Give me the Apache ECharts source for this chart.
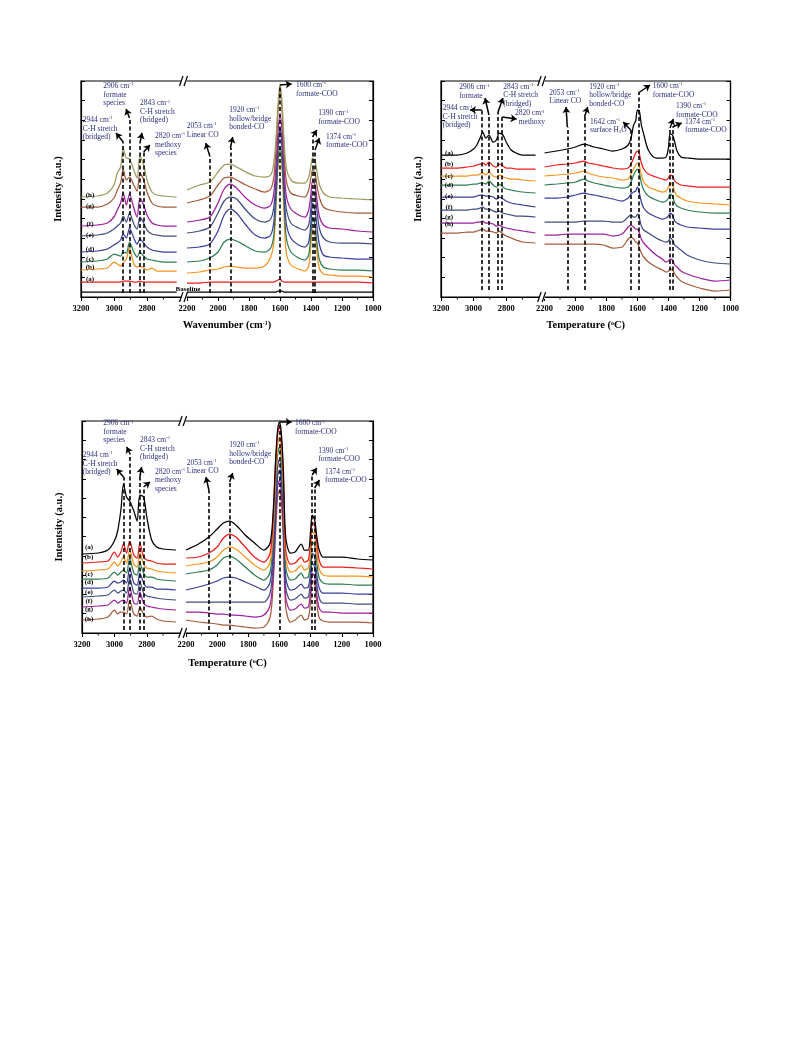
<!DOCTYPE html>
<html>
<head>
<meta charset="utf-8">
<title>IR spectra</title>
<script src="https://cdn.jsdelivr.net/npm/echarts@6.0.0/dist/echarts.min.js"></script>
<style>
html,body{margin:0;padding:0;background:#fff;}
#chart{width:793px;height:1057px;}
</style>
</head>
<body>
<div id="chart"></div>
<script>
// ---------- tick labels ----------
const X_MAJOR = [3200, 3000, 2800, 2200, 2000, 1800, 1600, 1400, 1200, 1000];
const X_MINOR = [3100, 2900, 2700, 2100, 1900, 1700, 1500, 1300, 1100];

// ---------- panel 1 (wavenumber) ----------
const p1_wn = [3200,3100,3040,3000,2980,2960,2944,2925,2906,2880,2860,2843,2820,2800,2770,2740,2700,2620,
  2200,2120,2053,2000,1960,1920,1880,1820,1760,1700,1660,1640,1625,1612,1600,1588,1575,1560,1530,1480,1440,1415,1400,1390,1374,1360,1345,1320,1280,1200,1100,1000];
const p1_baseline = [5,5,5,5,5,5,5,5,5,5,5,5,5,5,5,5,5,5,
  5,5,5,5,5,5,5,5,5,5, 5,5,5,6,6,6,5,5,5,5,5,5,5,5,5,5,5,5,5,5,5,5];
const p1_a = [15,15,15,15,15,15,16,16,16,15,15,16,15,15,15,15,15,15,
  14,14,15,15,15,15,15,15,15,15, 15,15,16,17,18,16,15,15,15,15,15,15,15,15,15,15,15,15,15,15,15,14];
const p1_b = [27,28,29,35,33,31,34,38,49,33,30,31,29,27,29,26,26,26,
  24,25,27,28,30,31,30,29,29,31, 40,54,94,134,150,134,87,45,32,28,26,31,54,68,61,42,28,23,22,21,21,20];
const p1_c = [35,36,38,43,42,41,45,44,55,45,40,45,41,38,37,36,35,35,
  35,36,39,45,55,58,56,51,46,45, 49,62,100,137,150,137,100,60,45,39,37,42,64,80,72,52,37,30,28,27,27,26];
const p1_d = [45,46,48,52,54,57,63,59,69,59,53,58,54,50,47,46,45,45,
  49,50,53,66,82,88,84,72,62,59, 62,75,110,150,169,152,110,74,59,52,50,55,75,94,87,68,52,42,40,39,38,38];
const p1_e = [61,62,64,68,71,74,81,75,84,73,68,80,74,67,63,62,61,61,
  64,66,70,84,96,100,98,87,78,75, 78,90,120,155,169,157,120,89,74,69,67,72,90,106,102,84,68,59,55,54,54,53];
const p1_f = [71,72,74,80,87,94,104,92,103,89,80,99,92,82,74,72,71,71,
  75,77,80,94,108,113,109,99,92,89, 92,104,134,167,182,169,134,102,88,82,80,87,104,116,112,95,80,72,69,68,66,65];
const p1_g = [90,90,93,99,107,114,128,117,120,112,106,124,117,105,94,91,90,90,
  94,97,101,112,119,120,117,112,108,105, 108,120,150,187,207,190,150,117,104,101,100,107,120,127,124,110,99,90,87,85,84,84];
const p1_h = [100,101,104,112,124,130,148,139,138,127,119,141,132,117,105,102,101,100,
  107,112,115,125,132,133,130,125,121,120, 122,134,160,194,213,197,160,130,117,114,114,120,132,139,136,124,112,104,100,99,98,97];

// ---------- panel 2 ----------
const p2_wn = [3200,3100,3040,3000,2980,2960,2944,2925,2906,2880,2860,2843,2820,2800,2770,2740,2700,2620,
  2200,2120,2053,2000,1945,1920,1880,1820,1760,1700,1660,1642,1625,1612,1600,1588,1575,1560,1530,1480,1440,1415,1400,1390,1374,1360,1345,1320,1280,1200,1100,1000];
const p2_a = [142,142,144,148,152,159,165,159,162,155,157,164,162,155,147,144,142,142,
  144,146,148,150,153,152,150,148,146,148, 152,159,172,176,187,186,172,163,147,139,139,140,150,163,162,155,146,140,139,138,138,138];
const p2_b = [129,129,130,131,132,133,134,132,135,131,130,133,131,129,129,128,128,128,
  130,132,133,134,136,134,133,131,129,128, 129,133,139,144,146,143,134,128,123,120,118,117,119,122,121,116,114,112,111,110,110,110];
const p2_c = [121,121,121,122,122,123,124,122,125,121,120,122,120,119,118,118,117,116,
  121,122,123,124,126,124,122,120,119,117, 118,123,128,132,134,131,122,115,110,107,105,106,110,114,112,105,101,99,96,94,93,92];
const p2_d = [112,112,112,113,113,114,114,113,116,112,110,113,110,108,107,106,105,104,
  112,113,114,115,118,116,114,112,110,109, 110,115,122,126,128,124,114,107,101,97,95,96,99,103,101,94,91,89,87,85,84,84];
const p2_e = [100,100,100,100,101,102,102,101,101,100,98,100,98,96,94,93,92,90,
  99,99,100,102,104,103,102,100,98,96, 99,103,105,106,110,104,95,89,84,80,78,79,81,84,82,76,74,72,70,69,68,68];
const p2_f = [87,87,87,88,88,89,90,88,88,86,85,86,84,83,82,81,81,80,
  75,75,75,75,76,76,76,76,75,75, 80,82,80,80,83,79,71,67,64,59,56,55,56,59,57,52,50,47,42,37,34,33];
const p2_g = [74,74,74,74,75,75,76,74,74,73,71,72,70,69,68,67,66,64,
  62,62,63,63,63,63,63,63,61,63, 70,72,70,68,68,64,58,54,49,42,38,35,36,38,37,32,30,26,23,19,16,17];
const p2_h = [64,64,65,65,66,67,68,66,66,65,64,66,63,61,59,57,55,54,
  53,53,53,53,53,53,53,52,49,50, 58,60,58,55,54,49,44,40,35,30,27,25,26,28,27,23,20,16,13,9,6,7];

// ---------- panel 3 ----------
const p3_wn = [3200,3100,3040,3000,2980,2960,2944,2925,2906,2880,2860,2843,2820,2800,2770,2740,2700,2620,
  2200,2120,2053,2000,1960,1920,1880,1820,1760,1700,1660,1640,1625,1612,1600,1588,1575,1560,1530,1500,1460,1440,1415,1400,1390,1374,1360,1345,1320,1280,1200,1100,1000];
const p3_a = [79,80,83,92,102,123,149,136,132,122,112,138,136,116,93,86,84,83,
  83,89,96,104,110,112,108,98,90,83, 90,123,173,203,211,200,163,96,80,81,89,83,83,103,118,113,96,83,76,76,76,74,73];
const p3_b = [70,71,72,81,76,81,89,80,92,78,75,90,76,73,72,70,69,69,
  75,76,80,86,95,99,96,86,76,71, 80,116,168,198,206,195,156,83,69,70,76,71,73,93,111,107,90,73,66,66,66,65,64];
const p3_c = [62,63,64,71,67,71,76,70,83,69,66,80,69,65,64,62,61,60,
  67,69,71,76,83,86,84,76,68,63, 71,106,156,188,196,185,146,76,61,62,68,63,65,83,101,98,80,64,58,57,57,57,56];
const p3_d = [54,54,55,61,58,61,63,60,75,60,58,70,60,56,56,54,53,52,
  59,61,63,68,75,77,74,66,58,53, 61,96,146,178,186,175,136,66,53,54,60,55,56,73,91,88,70,55,50,49,49,48,48];
const p3_e = [45,45,46,52,50,51,53,50,65,50,48,60,50,46,46,44,44,43,
  43,46,49,52,55,56,55,51,47,43, 51,83,130,166,174,161,123,56,43,44,49,45,46,63,80,76,58,45,40,40,40,39,39];
const p3_f = [36,37,38,43,40,42,43,40,55,40,39,51,40,37,36,35,34,33,
  31,31,31,31,31,31,31,31,31,31, 40,71,120,156,163,151,113,46,33,34,39,35,36,53,70,66,48,35,30,30,30,29,29];
const p3_g = [26,27,28,33,30,32,33,30,46,30,29,41,30,27,26,25,24,23,
  21,21,20,19,19,18,18,17,16,18, 28,60,110,146,153,141,103,36,23,24,29,25,26,43,60,56,38,25,21,21,20,20,20];
const p3_h = [13,14,16,23,19,21,21,19,33,19,17,26,19,16,17,14,12,11,
  13,11,10,9,8,8,7,6,5,6, 16,50,100,136,143,131,93,26,11,13,18,13,15,33,53,49,30,15,12,11,11,11,10];

// ---------- reference lines [wavenumber, from, to] and arrows [w0, v0, w1, v1] ----------
const p1_dash = [[2944,4,155],[2906,4,179],[2843,4,154],[2820,4,145],[2053,4,141],[1920,4,149],[1600,4,212],[1390,4,160],[1374,4,147]];
const p1_arrows = [[2944,155,2988,164],[2906,179,2927,188],[2843,154,2830,164],[2820,145,2782,152],[2053,141,2079,154],[1920,149,1905,160],[1600,212,1525,213],[1390,160,1363,167],[1374,147,1346,159]];
const p2_dash = [[2950,7,187],[2906,7,182],[2850,7,185],[2825,7,180],[2053,7,170],[1942,7,180],[1644,7,167],[1595,7,204],[1390,7,169],[1374,7,170]];
const p2_arrows = [[2950,187,3022,187],[2906,182,2930,199],[2850,185,2820,199],[2825,180,2736,178],[2053,170,2061,190],[1942,180,1921,190],[1644,167,1692,175],[1595,204,1519,212],[1390,169,1369,178],[1374,170,1315,174]];
const p3_dash = [[2944,3,156],[2906,3,180],[2843,3,156],[2820,3,146],[2053,3,143],[1920,3,151],[1600,3,211],[1390,3,158],[1374,3,145]];
const p3_arrows = [[2944,156,2986,164],[2906,180,2924,186],[2843,156,2832,166],[2820,146,2780,151],[2053,143,2072,156],[1920,151,1900,160],[1600,211,1522,211],[1390,158,1361,165],[1374,145,1344,153]];

// ---------- styling / layout ----------
const C = {k:'#000000', r:'#ee1c1c', o:'#f7941d', g:'#2f7d52', b:'#3c3c9c', s:'#414d80', p:'#9e1f9e', n:'#a65a3a', v:'#9c9a5e'};
const SERIF = '"Liberation Serif","DejaVu Serif",serif';
const ANN = '#2d2d7d';

const LAYOUT = [
  {left:81, top:81, height:216, sL:0.165, offR:106, sR:0.155, xTitle:'{t|Wavenumber (cm}{s|-1}{t|)}', yTitle:'Intensity (a.u.)', xGap:23},
  {left:441, top:81, height:216, sL:0.163, offR:103.5, sR:0.155, xTitle:'{t|Temperature (}{s|o}{t|C)}', yTitle:'Intensity (a.u.)', xGap:23},
  {left:82, top:421, height:212, sL:0.162, offR:104, sR:0.1558, xTitle:'{t|Temperature (}{s|o}{t|C)}', yTitle:'Intentsity (a.u.)', xGap:25}
];
LAYOUT.forEach(p => { p.width = p.offR + 1200 * p.sR; });

const PANELS = [
  {wn:p1_wn, dash:p1_dash, arrows:p1_arrows, curves:[[p1_baseline,C.k],[p1_a,C.r],[p1_b,C.o],[p1_c,C.g],[p1_d,C.b],[p1_e,C.s],[p1_f,C.p],[p1_g,C.n],[p1_h,C.v]]},
  {wn:p2_wn, dash:p2_dash, arrows:p2_arrows, curves:[[p2_h,C.n],[p2_g,C.p],[p2_f,C.s],[p2_e,C.b],[p2_d,C.g],[p2_c,C.o],[p2_b,C.r],[p2_a,C.k]]},
  {wn:p3_wn, dash:p3_dash, arrows:p3_arrows, curves:[[p3_h,C.n],[p3_g,C.p],[p3_f,C.s],[p3_e,C.b],[p3_d,C.g],[p3_c,C.o],[p3_b,C.r],[p3_a,C.k]]}
];

// curve tags [text, x, y] (pixel layout)
const TAGS = [
  [['(h)',90,195],['(g)',90,205.7],['(f)',90,224],['(e)',90,235],['(d)',90,249],['(c)',90,259],['(b)',90,267],['(a)',90,279],['Baseline',188,289.5]],
  [['(a)',449,153],['(b)',449,164],['(c)',449,176],['(d)',449,185],['(e)',449,196],['(f)',449,206.7],['(g)',449,216.7],['(h)',449,224]],
  [['(a)',89,546.7],['(b)',89,556.7],['(c)',89,574],['(d)',89,582.3],['(e)',89,591.7],['(f)',89,600.7],['(g)',89,609.3],['(h)',89,619.3]]
];
// annotations [x, y of first line centre, align, lines]
const NOTES = [
  [[82.7,120,'left',['2944 cm^-1','C-H stretch','(bridged)']],
   [103.3,86,'left',['2906 cm^-1','formate','species']],
   [140,103.3,'left',['2843 cm^-1','C-H stretch','(bridged)']],
   [155,136,'left',['2820 cm^-1','methoxy','species']],
   [186.7,126,'left',['2053 cm^-1','Linear CO']],
   [229.3,110,'left',['1920 cm^-1','hollow/bridge','bonded-CO']],
   [296,85,'left',['1600 cm^-1','formate-COO']],
   [318.3,113.3,'left',['1390 cm^-1','formate-COO']],
   [326,136.7,'left',['1374 cm^-1','formate-COO']]],
  [[459.3,87.3,'left',['2906 cm^-1','formate']],
   [442.7,108.3,'left',['2944 cm^-1','C-H stretch','(bridged)']],
   [503.3,86.7,'left',['2843 cm^-1','C-H stretch','(bridged)']],
   [545,113.3,'right',['2820 cm^-1','methoxy']],
   [549.3,92.7,'left',['2053 cm^-1','Linear CO']],
   [589.3,86.7,'left',['1920 cm^-1','hollow/bridge','bonded-CO']],
   [590,121.7,'left',['1642 cm^-1','surface H_2O']],
   [652.7,86,'left',['1600 cm^-1','formate-COO']],
   [676,106,'left',['1390 cm^-1','formate-COO']],
   [685,121.7,'left',['1374 cm^-1','formate-COO']]],
  [[103.3,423.3,'left',['2906 cm^-1','formate','species']],
   [82.7,455,'left',['2944 cm^-1','C-H stretch','(bridged)']],
   [140,440,'left',['2843 cm^-1','C-H stretch','(bridged)']],
   [155,471.7,'left',['2820 cm^-1','methoxy','species']],
   [186.7,462.7,'left',['2053 cm^-1','Linear CO']],
   [229.3,445,'left',['1920 cm^-1','hollow/bridge','bonded-CO']],
   [295,423.3,'left',['1600 cm^-1','formate-COO']],
   [318.3,450.7,'left',['1390 cm^-1','formate-COO']],
   [325,471.7,'left',['1374 cm^-1','formate-COO']]]
];

// broken-axis mapping: wavenumber -> compressed axis coordinate
function toC(p, w) { return w >= 2400 ? (3200 - w) * p.sL : p.offR + (2200 - w) * p.sR; }

const grids = [], xAxes = [], yAxes = [], series = [];
LAYOUT.forEach((p, i) => {
  grids.push({left:p.left, top:p.top, width:p.width, height:p.height, show:true, borderColor:'#000', borderWidth:1.2, backgroundColor:'transparent', containLabel:false, outerBoundsMode:'none'});
  const majorC = X_MAJOR.map(w => toC(p, w));
  xAxes.push({
    gridIndex:i, type:'value', min:0, max:p.width, position:'bottom',
    axisLine:{show:true, onZero:false, lineStyle:{color:'#000', width:1.2}},
    axisTick:{show:true, inside:false, length:4, customValues:majorC, lineStyle:{color:'#000', width:1.1}},
    axisLabel:{show:true, customValues:majorC, margin:7, color:'#000', fontFamily:SERIF, fontWeight:'bold', fontSize:8.5,
      formatter:(v) => { const t = X_MAJOR.find(w => Math.abs(toC(p, w) - v) < 0.01); return t === undefined ? '' : String(t); }},
    splitLine:{show:false},
    name:p.xTitle, nameLocation:'middle', nameGap:p.xGap,
    nameTextStyle:{rich:{t:{fontFamily:SERIF, fontWeight:'bold', fontSize:10.5, color:'#000'}, s:{fontFamily:SERIF, fontWeight:'bold', fontSize:6, color:'#000', verticalAlign:'top', lineHeight:5}}}
  });
  const yTicks = []; for (let k = 0; k <= 11; k++) yTicks.push(p.height * k / 11);
  yAxes.push({
    gridIndex:i, type:'value', min:0, max:p.height, position:'left',
    axisLine:{show:true, onZero:false, lineStyle:{color:'#000', width:1.2}},
    axisTick:{show:true, inside:true, length:4, customValues:yTicks, lineStyle:{color:'#000', width:1}},
    axisLabel:{show:false}, splitLine:{show:false},
    name:p.yTitle, nameLocation:'middle', nameGap:17, nameRotate:90,
    nameTextStyle:{fontFamily:SERIF, fontWeight:'bold', fontSize:10.5, color:'#000'}
  });
  yAxes.push({
    gridIndex:i, type:'value', min:0, max:p.height, position:'right',
    axisLine:{show:true, onZero:false, lineStyle:{color:'#000', width:1.2}},
    axisTick:{show:true, inside:true, length:4, customValues:yTicks, lineStyle:{color:'#000', width:1}},
    axisLabel:{show:false}, splitLine:{show:false}
  });

  const P = PANELS[i];
  P.curves.forEach(([vals, color], j) => {
    const data = [];
    for (let k = 0; k < P.wn.length; k++) {
      if (k > 0 && P.wn[k - 1] >= 2400 && P.wn[k] < 2400) data.push(['-', '-']);
      data.push([toC(p, P.wn[k]), vals[k]]);
    }
    const s = {type:'line', xAxisIndex:i, yAxisIndex:2 * i, data, showSymbol:false, symbol:'none', smooth:0.3,
      connectNulls:false, silent:true, lineStyle:{color, width:1.25}, z:2};
    if (j === 0) {
      s.markLine = {silent:true, symbol:['none','none'], label:{show:false}, animation:false,
        lineStyle:{type:[4,2.5], color:'#000', width:1.6},
        data:P.dash.map(([w, a, b]) => [{coord:[toC(p, w), a]}, {coord:[toC(p, w), b]}])};
    }
    if (j === 1) {
      s.markLine = {silent:true, symbol:['none','arrow'], symbolSize:6, label:{show:false}, animation:false,
        lineStyle:{type:'solid', color:'#000', width:1.5},
        data:P.arrows.map(([w0, v0, w1, v1]) => [{coord:[toC(p, w0), v0]}, {coord:[toC(p, w1), v1]}])};
    }
    series.push(s);
  });
});

const chart = echarts.init(document.getElementById('chart'), null, {renderer:'canvas'});
chart.setOption({animation:false, backgroundColor:'#fff', grid:grids, xAxis:xAxes, yAxis:yAxes, series});

// ---------- decorations: breaks, minor ticks, texts ----------
const richAnn = {
  t:{fontFamily:SERIF, fontSize:7.5, fill:ANN, lineHeight:8.6},
  s:{fontFamily:SERIF, fontSize:4.8, fill:ANN, lineHeight:4, verticalAlign:'top'},
  u:{fontFamily:SERIF, fontSize:4.8, fill:ANN, lineHeight:4, verticalAlign:'bottom'}
};
function toRich(line) {
  return line.split(/(\^-1|_2)/).filter(x => x !== '').map(part => {
    if (part === '^-1') return '{s|-1}';
    if (part === '_2') return '{u|2}';
    return '{t|' + part + '}';
  }).join('');
}
const g = [];
LAYOUT.forEach((p, i) => {
  const conv = (c, v) => chart.convertToPixel({xAxisIndex:i, yAxisIndex:2 * i}, [c, v]);
  const cMid = (toC(p, 2600) + p.offR) / 2 + 1;
  [0, p.height].forEach(v => {
    const [x, y] = conv(cMid, v);
    g.push({type:'rect', z:100, shape:{x:x - 3.2, y:y - 2, width:5.4, height:4}, style:{fill:'#fff'}});
    g.push({type:'line', z:101, shape:{x1:x - 5, y1:y + 5, x2:x - 1.5, y2:y - 5}, style:{stroke:'#000', lineWidth:1.2}});
    g.push({type:'line', z:101, shape:{x1:x - 0.5, y1:y + 5, x2:x + 3, y2:y - 5}, style:{stroke:'#000', lineWidth:1.2}});
  });
  X_MINOR.forEach(w => {
    const [x, y] = conv(toC(p, w), 0);
    g.push({type:'line', z:60, shape:{x1:x, y1:y, x2:x, y2:y + 2.5}, style:{stroke:'#000', lineWidth:1}});
  });
  TAGS[i].forEach(([t, x, y]) => {
    g.push({type:'text', z:70, x, y, style:{text:t, fill:'#000', font:'bold 7px ' + SERIF, align:'center', verticalAlign:'middle'}});
  });
  NOTES[i].forEach(([x, y, align, lines]) => {
    g.push({type:'text', z:70, x, y:y - 4.3, style:{text:lines.map(toRich).join('\n'), rich:richAnn, fill:ANN, font:'7.5px ' + SERIF, align, verticalAlign:'top'}});
  });
});
chart.setOption({graphic:{elements:g}});
</script>
</body>
</html>
